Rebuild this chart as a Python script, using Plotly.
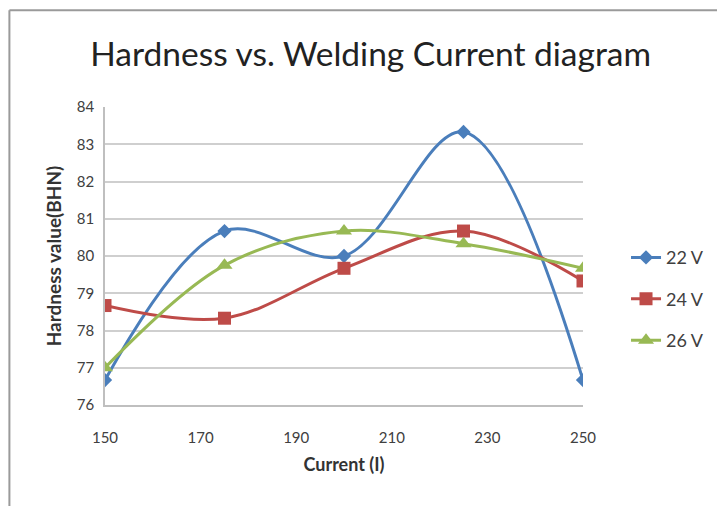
import plotly.graph_objects as go

current = [150, 175, 200, 225, 250]
hardness_22v = [76.67, 80.67, 80.0, 83.33, 76.67]
hardness_24v = [78.67, 78.33, 79.67, 80.67, 79.33]
hardness_26v = [77.0, 79.75, 80.67, 80.33, 79.67]

series = [
    ("22 V", hardness_22v, "#4A7EBB", "diamond", 11),
    ("24 V", hardness_24v, "#BE4B48", "square", 13),
    ("26 V", hardness_26v, "#98B954", "triangle-up", 14),
]

font_family = "Lato, Open Sans, sans-serif"

fig = go.Figure()
for name, values, color, symbol, size in series:
    fig.add_trace(go.Scatter(
        x=current, y=values, name=name, mode="lines+markers",
        legendgroup=name,
        line=dict(color=color, width=3, shape="spline", smoothing=1.0),
        marker=dict(color=color, symbol=symbol, size=size),
    ))

fig.update_layout(
    width=717, height=506,
    margin=dict(l=105, r=134, t=107, b=101, autoexpand=False),
    paper_bgcolor="white", plot_bgcolor="white",
    font=dict(family=font_family, color="#404040", size=15),
    title=dict(
        text="Hardness vs. Welding Current diagram",
        x=0.517, xanchor="center", y=0.892, yanchor="middle",
        font=dict(size=33.5, color="#222222", family=font_family),
    ),
    xaxis=dict(
        range=[150, 250], tickvals=[150, 170, 190, 210, 230, 250],
        showgrid=False, zeroline=False,
        showline=True, linecolor="#BFBFBF", linewidth=1.5,
        ticks="", ticklabelstandoff=18,
        tickfont=dict(size=15, color="#404040"),
        title=dict(text="<b>Current (I)</b>", font=dict(size=18, color="#333333"), standoff=14),
    ),
    yaxis=dict(
        range=[76, 84], dtick=1,
        showgrid=True, gridcolor="#CFCFCF", gridwidth=1.5,
        zeroline=False,
        showline=True, linecolor="#BFBFBF", linewidth=1.5,
        ticks="", ticklabelstandoff=6,
        tickfont=dict(size=15, color="#404040"),
        title=dict(text="<b>Hardness value(BHN)</b>", font=dict(size=19, color="#333333"), standoff=10),
    ),
    legend=dict(
        x=1.09, xanchor="left", y=0.355, yanchor="middle",
        font=dict(size=18, color="#404040"),
        tracegroupgap=15, traceorder="grouped",
        bgcolor="rgba(0,0,0,0)",
    ),
    showlegend=True,
)

# Outer chart frame (top and left edges)
fig.add_shape(type="line", xref="paper", yref="paper",
              x0=-0.2, x1=1.3, y0=1.325, y1=1.325,
              line=dict(color="#9A9A9A", width=2))
fig.add_shape(type="line", xref="paper", yref="paper",
              x0=-0.2, x1=-0.2, y0=1.325, y1=-0.4,
              line=dict(color="#9A9A9A", width=2))

fig.write_html("out.html")
